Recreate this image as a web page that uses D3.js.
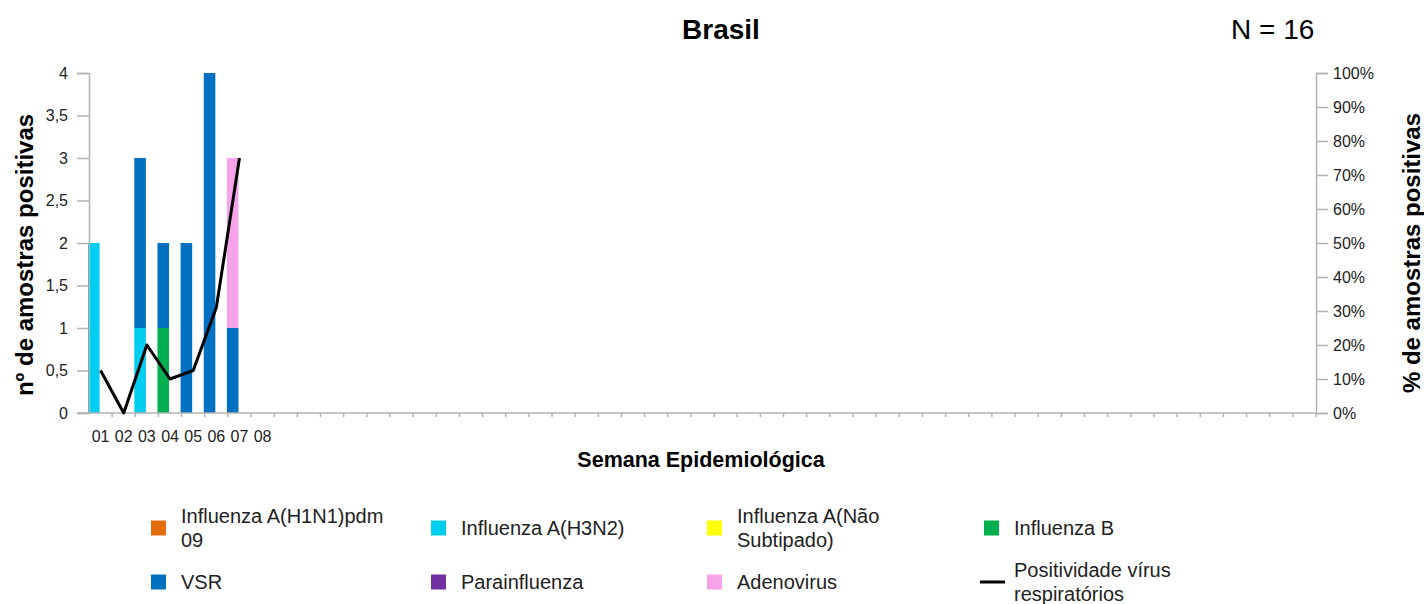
<!DOCTYPE html>
<meta charset="utf-8">
<style>
  body { margin: 0; background: #fff; }
  text { font-family: "Liberation Sans", Arial, sans-serif; }
  .tick-label { font-size: 16px; fill: #222; }
  .axis-line { stroke: #b3b3b3; stroke-width: 1.5px; }
</style>
<script src="https://d3js.org/d3.v7.min.js"></script>
<div id="chart"></div>
<script>
// weeks 01..53 on the x axis, only 01-08 carry a label
const weeks = d3.range(1, 54);
const weekLabels = ["01", "02", "03", "04", "05", "06", "07", "08"];

// counts per week (weeks 01-07)
const h1n1     = [0, 0, 0, 0, 0, 0, 0];
const h3n2     = [2, 0, 1, 0, 0, 0, 0];
const naoSub   = [0, 0, 0, 0, 0, 0, 0];
const fluB     = [0, 0, 0, 1, 0, 0, 0];
const vsr      = [0, 0, 2, 1, 2, 4, 1];
const para     = [0, 0, 0, 0, 0, 0, 0];
const adeno    = [0, 0, 0, 0, 0, 0, 2];
// positividade (share of samples), weeks 01-07
const positividade = [0.125, 0, 0.2, 0.1, 0.125, 0.31, 0.75];

const leftTicks = [0, 0.5, 1, 1.5, 2, 2.5, 3, 3.5, 4];
const rightTicks = [0, 0.1, 0.2, 0.3, 0.4, 0.5, 0.6, 0.7, 0.8, 0.9, 1];

const series = [
  {name: "Influenza A(H1N1)pdm 09", lines: ["Influenza A(H1N1)pdm", "09"], color: "#e46c0a", values: h1n1},
  {name: "Influenza A(H3N2)", lines: ["Influenza A(H3N2)"], color: "#00cdef", values: h3n2},
  {name: "Influenza A(Não Subtipado)", lines: ["Influenza A(Não", "Subtipado)"], color: "#ffff00", values: naoSub},
  {name: "Influenza B", lines: ["Influenza B"], color: "#00b050", values: fluB},
  {name: "VSR", lines: ["VSR"], color: "#0070c0", values: vsr},
  {name: "Parainfluenza", lines: ["Parainfluenza"], color: "#7030a0", values: para},
  {name: "Adenovirus", lines: ["Adenovirus"], color: "#f7a3e9", values: adeno}
];

const W = 1424, H = 604;
const plot = {left: 89, right: 1316, top: 73, bottom: 413};

const svg = d3.select("#chart").append("svg")
  .attr("width", W).attr("height", H);

const x = d3.scaleBand().domain(weeks).range([plot.left, plot.right]);
const yL = d3.scaleLinear().domain([0, 4]).range([plot.bottom, plot.top]);
const yR = d3.scaleLinear().domain([0, 1]).range([plot.bottom, plot.top]);

// stacked bars
const rows = positividade.map((p, i) => {
  const r = {week: weeks[i]};
  series.forEach(s => r[s.name] = s.values[i]);
  return r;
});
const stack = d3.stack().keys(series.map(s => s.name))(rows);
const bw = x.bandwidth();

stack.forEach((layer, k) => {
  svg.append("g")
    .selectAll("rect")
    .data(layer.filter(d => d[1] > d[0]))
    .join("rect")
      .attr("x", d => x(d.data.week) - 1)
      .attr("width", bw / 2)
      .attr("y", d => yL(d[1]))
      .attr("height", d => yL(d[0]) - yL(d[1]))
      .attr("fill", series[k].color);
});

// left axis
const leftAxis = svg.append("g")
  .attr("transform", `translate(${plot.left},0)`)
  .call(d3.axisLeft(yL).tickValues(leftTicks).tickSize(12).tickPadding(9)
    .tickFormat(d => String(d).replace(".", ",")));
// right axis
const rightAxis = svg.append("g")
  .attr("transform", `translate(${plot.right},0)`)
  .call(d3.axisRight(yR).tickValues(rightTicks).tickSize(12).tickPadding(5)
    .tickFormat(d => Math.round(d * 100) + "%"));

[leftAxis, rightAxis].forEach(a => {
  a.select(".domain").attr("class", "axis-line").attr("fill", "none");
  a.selectAll(".tick line").attr("class", "axis-line");
  a.selectAll(".tick text").attr("class", "tick-label");
  a.attr("font-size", null).attr("font-family", null);
});

// x axis line and ticks on band edges
svg.append("line").attr("class", "axis-line")
  .attr("x1", plot.left - 12).attr("x2", plot.right)
  .attr("y1", plot.bottom).attr("y2", plot.bottom);
svg.append("g").selectAll("line")
  .data(weeks.slice(1).concat(["end"]))
  .join("line")
    .attr("class", "axis-line")
    .attr("x1", d => d === "end" ? plot.right : x(d))
    .attr("x2", d => d === "end" ? plot.right : x(d))
    .attr("y1", plot.bottom).attr("y2", plot.bottom + 4);
svg.append("g").selectAll("text")
  .data(weekLabels)
  .join("text")
    .attr("class", "tick-label")
    .attr("x", (d, i) => x(weeks[i]) + bw / 2)
    .attr("y", 442)
    .attr("text-anchor", "middle")
    .text(d => d);

// positividade line
const line = d3.line()
  .x((d, i) => x(weeks[i]) + bw / 2)
  .y(d => yR(d));
svg.append("path")
  .datum(positividade)
  .attr("d", line)
  .attr("fill", "none")
  .attr("stroke", "#000")
  .attr("stroke-width", 3)
  .attr("stroke-linejoin", "round");

// titles
svg.append("text").attr("x", 721).attr("y", 39)
  .attr("text-anchor", "middle").style("font-size", "28px").style("font-weight", "bold")
  .text("Brasil");
svg.append("text").attr("x", 1231).attr("y", 39)
  .style("font-size", "28px").text("N = 16");
svg.append("text").attr("x", 701).attr("y", 467)
  .attr("text-anchor", "middle").style("font-size", "21.5px").style("font-weight", "bold")
  .text("Semana Epidemiológica");
svg.append("text")
  .attr("transform", "translate(33,255) rotate(-90)")
  .attr("text-anchor", "middle").style("font-size", "24px").style("font-weight", "bold")
  .text("nº de amostras positivas");
svg.append("text")
  .attr("transform", "translate(1420,253) rotate(-90)")
  .attr("text-anchor", "middle").style("font-size", "24px").style("font-weight", "bold")
  .text("% de amostras positivas");

// legend
const colX = [151, 431, 707, 984];
const rowY = [528, 582];
const legendItems = series.map(s => ({type: "rect", color: s.color, lines: s.lines}))
  .concat([{type: "line", color: "#000", lines: ["Positividade vírus", "respiratórios"]}]);

legendItems.forEach((it, i) => {
  const cx = colX[i % 4], cy = rowY[Math.floor(i / 4)];
  const g = svg.append("g");
  if (it.type === "rect") {
    g.append("rect").attr("x", cx).attr("y", cy - 7.5)
      .attr("width", 15).attr("height", 15).attr("fill", it.color);
  } else {
    g.append("line").attr("x1", cx - 4).attr("x2", cx + 21)
      .attr("y1", cy).attr("y2", cy)
      .attr("stroke", it.color).attr("stroke-width", 3);
  }
  const t = g.append("text").attr("x", cx + 30)
    .attr("y", cy + 7 - (it.lines.length - 1) * 12.5)
    .style("font-size", "20px").style("fill", "#222");
  it.lines.forEach((l, j) => {
    t.append("tspan").attr("x", cx + 30).attr("dy", j === 0 ? 0 : 24).text(l);
  });
});
</script>
</html>
